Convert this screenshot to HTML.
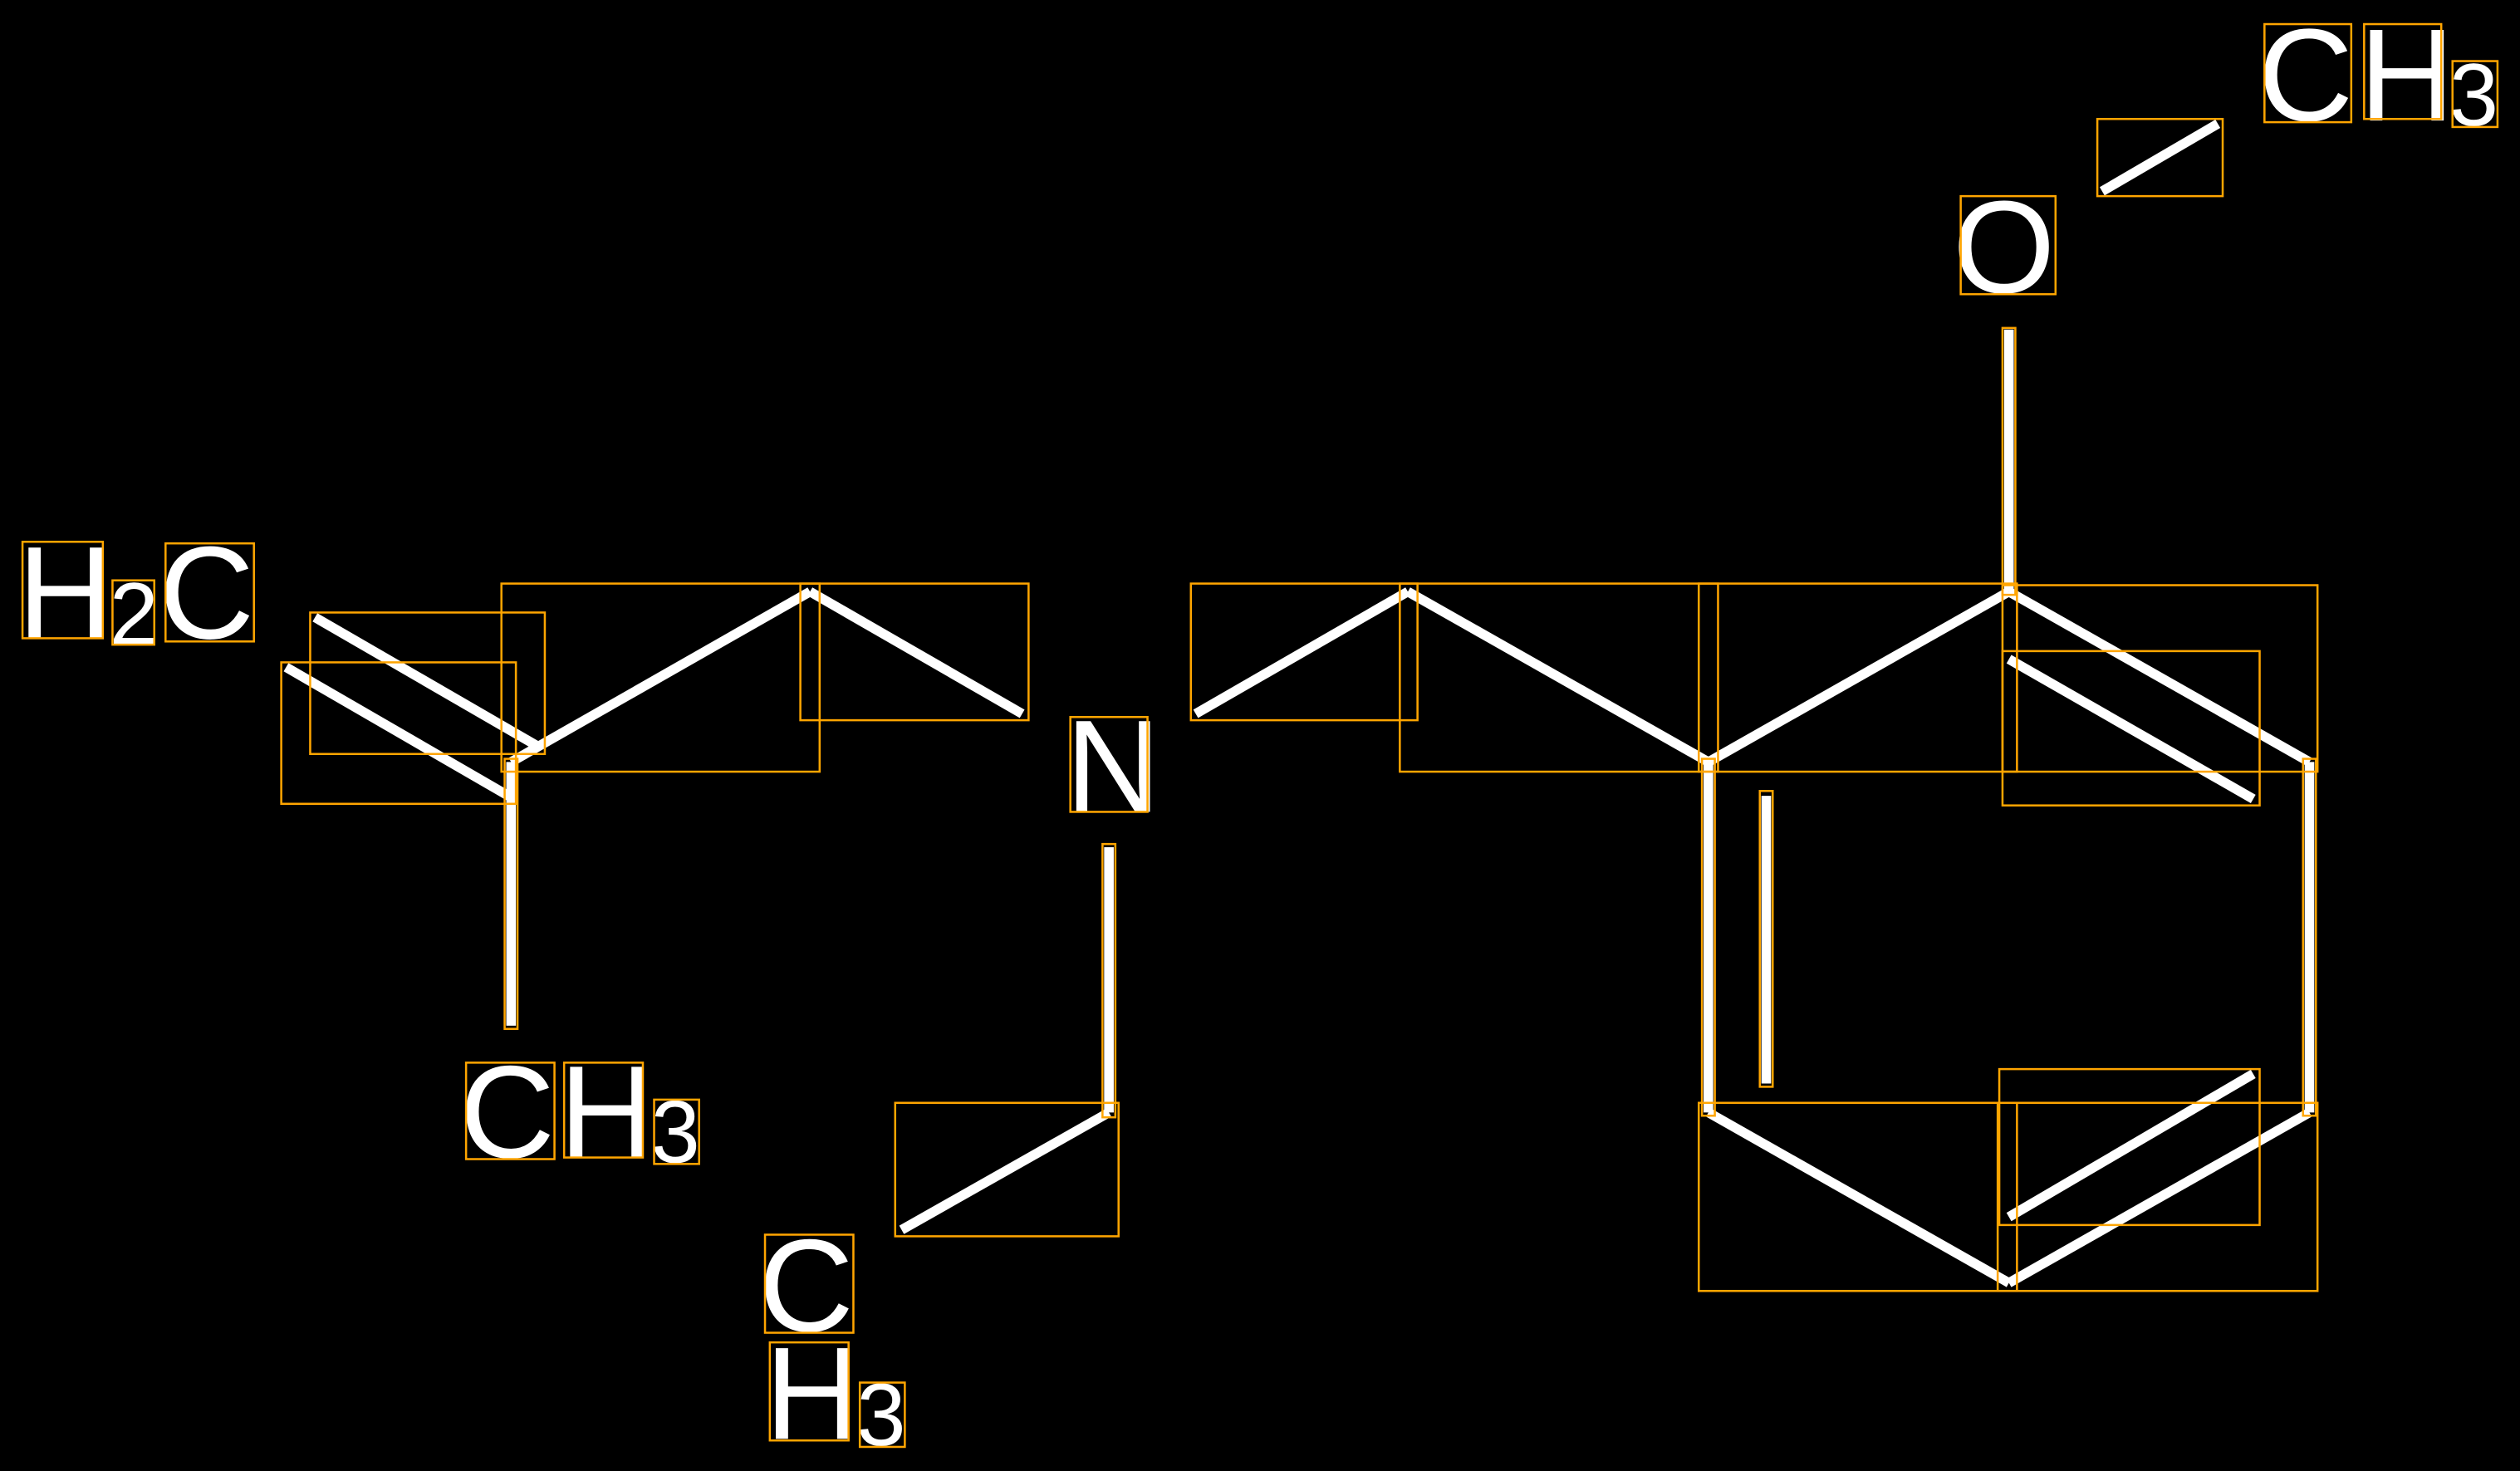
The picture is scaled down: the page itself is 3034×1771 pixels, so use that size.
<!DOCTYPE html>
<html><head><style>html,body{margin:0;padding:0;background:#000;}svg{display:block}</style></head>
<body>
<svg width="3034" height="1771" viewBox="0 0 1568 915" preserveAspectRatio="none" xmlns="http://www.w3.org/2000/svg">
<rect width="1568" height="915" fill="#000"/>
<g stroke="#fff" stroke-width="6" stroke-linecap="butt" fill="none">
<line x1="196" y1="384" x2="336" y2="465"/>
<line x1="178" y1="415" x2="318" y2="496"/>
<line x1="318" y1="474" x2="318" y2="638"/>
<line x1="318" y1="474" x2="504" y2="368"/>
<line x1="504" y1="368" x2="636" y2="444"/>
<line x1="744" y1="444" x2="876" y2="368"/>
<line x1="876" y1="368" x2="1063" y2="474"/>
<line x1="1063" y1="474" x2="1250" y2="368"/>
<line x1="1250" y1="368" x2="1250" y2="205"/>
<line x1="1308" y1="119" x2="1380" y2="77"/>
<line x1="1250" y1="368" x2="1437" y2="474"/>
<line x1="1250" y1="410" x2="1402" y2="497"/>
<line x1="1437" y1="474" x2="1437" y2="692"/>
<line x1="1063" y1="474" x2="1063" y2="692"/>
<line x1="1099" y1="495" x2="1099" y2="674"/>
<line x1="1063" y1="692" x2="1250" y2="798"/>
<line x1="1250" y1="798" x2="1437" y2="692"/>
<line x1="1250" y1="757" x2="1402" y2="668"/>
<line x1="690" y1="527" x2="690" y2="692"/>
<line x1="690" y1="692" x2="561" y2="765"/>
</g>
<g fill="#fff" font-family="'Liberation Sans', sans-serif">
<text x="11" y="397" font-size="82">H</text>
<text x="68" y="401" font-size="55">2</text>
<text x="99" y="397" font-size="82">C</text>
<text x="663" y="505" font-size="82">N</text>
<text x="1215" y="182" font-size="82">O</text>
<text x="1405" y="75" font-size="82">C</text>
<text x="1468" y="75" font-size="82">H</text>
<text x="1524" y="78" font-size="55">3</text>
<text x="286" y="720" font-size="82">C</text>
<text x="348" y="720" font-size="82">H</text>
<text x="405" y="723" font-size="55">3</text>
<text x="472" y="828" font-size="82">C</text>
<text x="476" y="895" font-size="82">H</text>
<text x="533" y="899" font-size="55">3</text>
</g>
<g stroke="#ffa500" stroke-width="1.3" fill="none">
<rect x="14" y="337" width="50" height="60"/>
<rect x="70" y="361" width="26" height="40"/>
<rect x="103" y="338" width="55" height="61"/>
<rect x="666" y="446" width="48" height="59"/>
<rect x="1220" y="122" width="59" height="61"/>
<rect x="1409" y="15" width="54" height="61"/>
<rect x="1471" y="15" width="48" height="59"/>
<rect x="1526" y="38" width="28" height="41"/>
<rect x="290" y="661" width="55" height="60"/>
<rect x="351" y="661" width="49" height="59"/>
<rect x="407" y="684" width="28" height="40"/>
<rect x="476" y="768" width="55" height="61"/>
<rect x="479" y="835" width="49" height="61"/>
<rect x="535" y="860" width="28" height="40"/>
<rect x="312" y="363" width="198" height="117"/>
<rect x="498" y="363" width="142" height="85"/>
<rect x="193" y="381" width="146" height="88"/>
<rect x="175" y="412" width="146" height="88"/>
<rect x="741" y="363" width="141" height="85"/>
<rect x="871" y="363" width="198" height="117"/>
<rect x="1057" y="363" width="198" height="117"/>
<rect x="1246" y="364" width="196" height="116"/>
<rect x="1246" y="405" width="160" height="96"/>
<rect x="1057" y="686" width="198" height="117"/>
<rect x="1243" y="686" width="199" height="117"/>
<rect x="1244" y="665" width="162" height="97"/>
<rect x="557" y="686" width="139" height="83"/>
<rect x="1305" y="74" width="78" height="48"/>
<rect x="1246" y="204" width="8" height="166"/>
<rect x="314" y="472" width="8" height="168"/>
<rect x="686" y="525" width="8" height="170"/>
<rect x="1059" y="472" width="8" height="222"/>
<rect x="1095" y="492" width="8" height="184"/>
<rect x="1433" y="472" width="8" height="222"/>
</g>
</svg>
</body></html>
